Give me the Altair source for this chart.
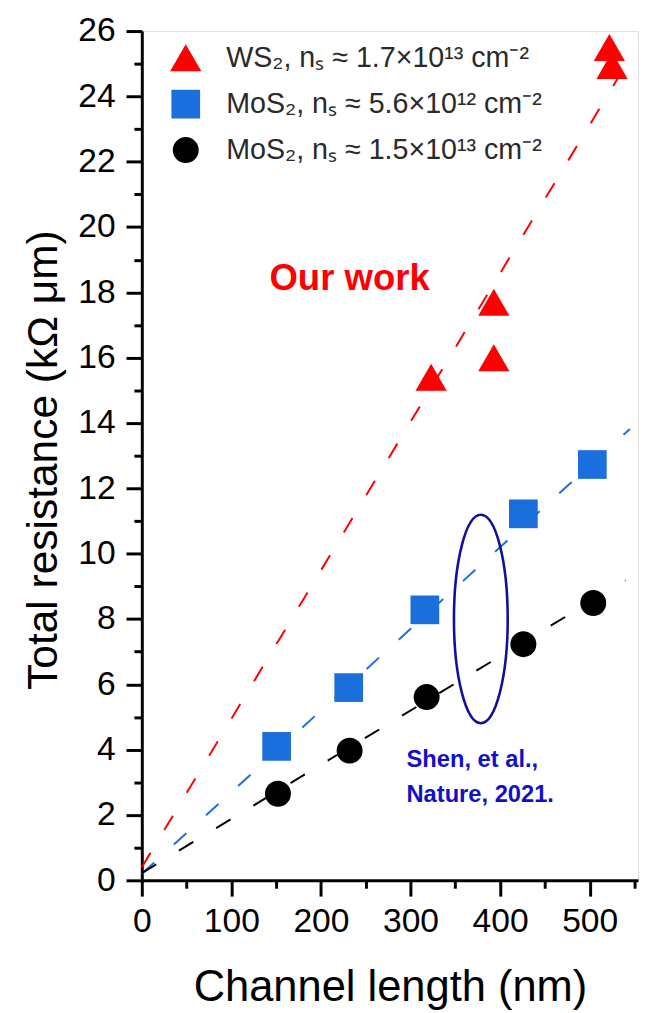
import altair as alt
import pandas as pd

# ---------------- data ----------------
series = ["WS₂, nₛ ≈ 1.7×10¹³ cm⁻²", "MoS₂, nₛ ≈ 5.6×10¹² cm⁻²", "MoS₂, nₛ ≈ 1.5×10¹³ cm⁻²"]
colors = ["#FF0000", "#1B6FDC", "#000000"]
shapes = ["triangle-up", "square", "circle"]
marker_sizes = [1000, 690, 600]

ws2_L = [323, 393, 393, 522, 525]
ws2_R = [15.4, 17.7, 16.0, 25.5, 24.95]
mos2_low_L = [150.5, 231, 316, 426, 503]
mos2_low_R = [4.1, 5.9, 8.28, 11.22, 12.73]
mos2_high_L = [152, 232, 318, 426, 504]
mos2_high_R = [2.65, 3.97, 5.61, 7.23, 8.49]

# linear fits (start / end points)
fit_L_start = [0, 0, 0]
fit_L_end = [550, 545, 540]
fit_R_start = [0.4, 0.2, 0.22]
fit_R_end = [25.4, 13.82, 9.18]

x_major = [0, 100, 200, 300, 400, 500]
x_minor = [50, 150, 250, 350, 450, 550]
y_major = list(range(0, 27, 2))
y_minor = list(range(1, 27, 2))

note_ours = "Our work"
note_ref = ["Shen, et al.,", "Nature, 2021."]

# ---------------- tables ----------------
pts = pd.DataFrame(
    [{"series": series[0], "L": a, "R": b} for a, b in zip(ws2_L, ws2_R)]
    + [{"series": series[1], "L": a, "R": b} for a, b in zip(mos2_low_L, mos2_low_R)]
    + [{"series": series[2], "L": a, "R": b} for a, b in zip(mos2_high_L, mos2_high_R)]
)
fits = pd.DataFrame(
    [{"series": s, "L": x0, "R": y0} for s, x0, y0 in zip(series, fit_L_start, fit_R_start)]
    + [{"series": s, "L": x1, "R": y1} for s, x1, y1 in zip(series, fit_L_end, fit_R_end)]
)
ours_df = pd.DataFrame([{"L": 142.5, "R": 18.08, "t": note_ours}])
ref_df = pd.DataFrame([{"L": 295.5, "R": 3.48, "t": note_ref}])
ellipse_df = pd.DataFrame([{"L": 378.5, "R": 8.0}])

FONT = "Liberation Sans"
xscale = alt.Scale(domain=[0, 554], nice=False, zero=False)
yscale = alt.Scale(domain=[0, 26], nice=False, zero=False)
cscale = alt.Scale(domain=series, range=colors)

major_x = alt.Axis(values=x_major, title="Channel length (nm)", grid=False,
                   tickSize=16, tickWidth=3, tickColor="black",
                   domainWidth=3, domainColor="black",
                   labelFont=FONT, labelFontSize=34, labelColor="black", labelPadding=9,
                   labelFlush=False, labelOverlap=False,
                   titleFont=FONT, titleFontSize=44, titleFontWeight="normal", titleColor="black",
                   titleBaseline="alphabetic", titleY=122, orient="bottom")
major_y = alt.Axis(values=y_major, title="Total resistance (kΩ μm)", grid=False,
                   tickSize=16, tickWidth=3, tickColor="black",
                   domainWidth=3, domainColor="black",
                   labelFont=FONT, labelFontSize=34, labelColor="black", labelPadding=11,
                   labelOverlap=False, labelFlush=False,
                   titleFont=FONT, titleFontSize=43, titleFontWeight="normal", titleColor="black",
                   titleBaseline="alphabetic", titleX=-86.5, titleY=434, orient="left")
minor_x = alt.Axis(values=x_minor, title=None, grid=False, labels=False, domain=False,
                   tickSize=8, tickWidth=3, tickColor="black", orient="bottom")
minor_y = alt.Axis(values=y_minor, title=None, grid=False, labels=False, domain=False,
                   tickSize=8, tickWidth=3, tickColor="black", orient="left")

legend = alt.Legend(orient="none", legendX=28.5, legendY=11, title=None,
                    labelFont=FONT, labelFontSize=29, labelColor="#2a2a2a", labelLimit=0,
                    labelOffset=25, rowPadding=17, symbolStrokeWidth=0, symbolOpacity=1)

lines = alt.Chart(fits).mark_line(strokeDash=[17, 27], strokeWidth=2).encode(
    x=alt.X("L:Q", scale=xscale, axis=minor_x),
    y=alt.Y("R:Q", scale=yscale, axis=minor_y),
    color=alt.Color("series:N", scale=cscale, legend=legend),
    detail="series:N",
)

points = alt.Chart(pts).mark_point(filled=True, opacity=1, strokeWidth=0).encode(
    x=alt.X("L:Q", scale=xscale, axis=major_x),
    y=alt.Y("R:Q", scale=yscale, axis=major_y),
    color=alt.Color("series:N", scale=cscale, legend=legend),
    shape=alt.Shape("series:N", scale=alt.Scale(domain=series, range=shapes), legend=legend),
    size=alt.Size("series:N", scale=alt.Scale(domain=series, range=marker_sizes), legend=legend),
)

rx, k = 0.258, 0.5523
ell_path = (f"M0,-1C{rx*k:.4f},-1 {rx:.4f},{-k:.4f} {rx:.4f},0"
            f"C{rx:.4f},{k:.4f} {rx*k:.4f},1 0,1"
            f"C{-rx*k:.4f},1 {-rx:.4f},{k:.4f} {-rx:.4f},0"
            f"C{-rx:.4f},{-k:.4f} {-rx*k:.4f},-1 0,-1Z")
ellipse = alt.Chart(ellipse_df).mark_point(shape=ell_path, size=44521, filled=False,
                                           stroke="#10109C", strokeWidth=2.6, opacity=1).encode(
    x=alt.X("L:Q", scale=xscale, axis=None),
    y=alt.Y("R:Q", scale=yscale, axis=None),
)

ours = alt.Chart(ours_df).mark_text(font=FONT, fontSize=37, fontWeight="bold", color="#FF0000",
                                    align="left", baseline="alphabetic").encode(
    x=alt.X("L:Q", scale=xscale, axis=None),
    y=alt.Y("R:Q", scale=yscale, axis=None),
    text="t",
)
ref = alt.Chart(ref_df).mark_text(font=FONT, fontSize=24, fontWeight="bold", color="#1010C8",
                                  align="left", baseline="alphabetic", lineHeight=36).encode(
    x=alt.X("L:Q", scale=xscale, axis=None),
    y=alt.Y("R:Q", scale=yscale, axis=None),
    text="t",
)

chart = alt.layer(lines, points, ellipse, ours, ref).resolve_axis(
    x="independent", y="independent"
).properties(
    width=502.5, height=860,
    padding={"left": 135.5, "top": 17, "right": 2, "bottom": 128},
    autosize=alt.AutoSizeParams(type="none"),
).configure_view(stroke="black", strokeWidth=3).configure(background="white")

chart.save("out.html", embed_options={"renderer": "svg", "actions": False})
